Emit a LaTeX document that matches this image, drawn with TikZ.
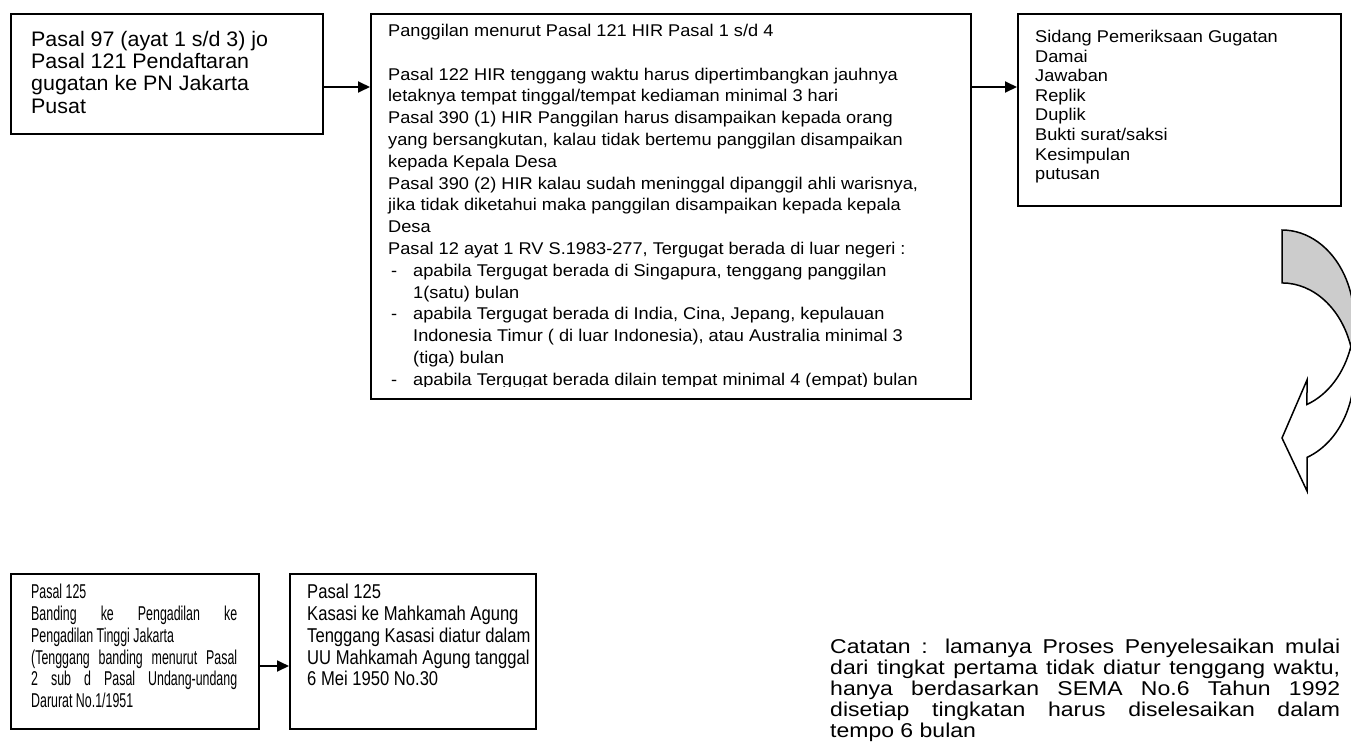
\documentclass[tikz,border=0pt]{standalone}
\usepackage{fontspec}
\setmainfont{Liberation Sans}
% text faces, each with its own horizontal scaling
\newfontfamily\faceA[FakeStretch=1.02]{Liberation Sans}
\newfontfamily\faceB[FakeStretch=1.07]{Liberation Sans}
\newfontfamily\faceC[FakeStretch=0.62]{Liberation Sans}
\newfontfamily\faceD[FakeStretch=0.83]{Liberation Sans}
\newfontfamily\faceE[FakeStretch=1.15]{Liberation Sans}
\usetikzlibrary{arrows.meta}
% list helpers for the summons panel
\newcommand{\dashitem}{\makebox[25pt][l]{\hspace*{3pt}-}}
\newcommand{\contind}{\makebox[25pt][l]{}}

\begin{document}
\begin{tikzpicture}[x=1pt,y=-1pt,
  panel/.style={draw=black,line width=1.8pt,inner sep=0pt,anchor=north west},
  txt/.style={inner sep=0pt,anchor=north west,align=left},
  conn/.style={line width=1.8pt,-{Triangle[length=12pt,width=11pt]}},
  curvedfill/.style={draw=black,line width=1.5pt,line join=miter}]
\useasboundingbox (0,0) rectangle (1351,742);
\clip (0,0) rectangle (1351,742);

% ---- boxes ----
\node[panel,minimum width=312pt,minimum height=120pt] (b1) at (10,13) {};
\node[panel,minimum width=600pt,minimum height=385pt] (b2) at (370,13) {};
\node[panel,minimum width=323pt,minimum height=192pt] (b3) at (1017,13) {};
\node[panel,minimum width=248pt,minimum height=155pt] (b4) at (10,573) {};
\node[panel,minimum width=246pt,minimum height=155pt] (b5) at (289,573) {};

% ---- texts ----
\node[txt,font=\faceA\fontsize{21}{22.2}\selectfont] (t1) at (31,31)
  {Pasal 97 (ayat 1 s/d 3) jo\\Pasal 121 Pendaftaran\\gugatan ke PN Jakarta\\Pusat};

\begin{scope}
\clip (372,15) rectangle (968,386);
\node[txt,font=\faceB\fontsize{17}{21.8}\selectfont] (t2) at (388,24)
  {Panggilan menurut Pasal 121 HIR Pasal 1 s/d 4\\
   \mbox{}\\
   Pasal 122 HIR tenggang waktu harus dipertimbangkan jauhnya\\
   letaknya tempat tinggal/tempat kediaman minimal 3 hari\\
   Pasal 390 (1) HIR Panggilan harus disampaikan kepada orang\\
   yang bersangkutan, kalau tidak bertemu panggilan disampaikan\\
   kepada Kepala Desa\\
   Pasal 390 (2) HIR kalau sudah meninggal dipanggil ahli warisnya,\\
   jika tidak diketahui maka panggilan disampaikan kepada kepala\\
   Desa\\
   Pasal 12 ayat 1 RV S.1983-277, Tergugat berada di luar negeri :\\
   \dashitem apabila Tergugat berada di Singapura, tenggang panggilan\\
   \contind 1(satu) bulan\\
   \dashitem apabila Tergugat berada di India, Cina, Jepang, kepulauan\\
   \contind Indonesia Timur ( di luar Indonesia), atau Australia minimal 3\\
   \contind (tiga) bulan\\
   \dashitem apabila Tergugat berada dilain tempat minimal 4 (empat) bulan};
\end{scope}

\node[txt,font=\faceB\fontsize{17}{19.6}\selectfont] (t3) at (1035,30)
  {Sidang Pemeriksaan Gugatan\\Damai\\Jawaban\\Replik\\Duplik\\Bukti surat/saksi\\Kesimpulan\\putusan};

\node[txt,font=\faceC\fontsize{20}{21.8}\selectfont] (t4) at (31,584)
  {Pasal 125\\
   \makebox[206pt][s]{Banding ke Pengadilan ke}\\
   Pengadilan Tinggi Jakarta\\
   \makebox[206pt][s]{(Tenggang banding menurut Pasal}\\
   \makebox[206pt][s]{2 sub d Pasal Undang-undang}\\
   Darurat No.1/1951};

\node[txt,font=\faceD\fontsize{20}{21.8}\selectfont] (t5) at (307,584)
  {Pasal 125\\Kasasi ke Mahkamah Agung\\Tenggang Kasasi diatur dalam\\UU Mahkamah Agung tanggal\\6 Mei 1950 No.30};

\node[txt,font=\faceE\fontsize{20}{21}\selectfont] (note) at (830,638.5)
  {\makebox[510pt][s]{Catatan : lamanya Proses Penyelesaikan mulai}\\
   \makebox[510pt][s]{dari tingkat pertama tidak diatur tenggang waktu,}\\
   \makebox[510pt][s]{hanya berdasarkan SEMA No.6 Tahun 1992}\\
   \makebox[510pt][s]{disetiap tingkatan harus diselesaikan dalam}\\
   tempo 6 bulan};

% ---- connectors ----
\coordinate (ytop) at (0,87);
\coordinate (ybot) at (0,666);
\draw[conn] (b1.east |- ytop) -- (b2.west |- ytop);
\draw[conn] (b2.east |- ytop) -- (b3.west |- ytop);
\draw[conn] (b4.east |- ybot) -- (b5.west |- ybot);

% ---- curved turn-down arrow at the right edge ----
\coordinate (twist) at (1350.8,346.5);
\draw[curvedfill,fill=white] (twist)
  arc[start angle=17.1,end angle=69.7,x radius=72,y radius=90]
  -- (1307,380) -- (1282,438) -- (1307,491) -- (1307,457.4)
  arc[start angle=69.7,end angle=-17.1,x radius=72,y radius=90] -- cycle;
\draw[curvedfill,fill=gray!40] (1282,230)
  arc[start angle=-90,end angle=17.1,x radius=72,y radius=90]
  arc[start angle=-17.1,end angle=-90,x radius=72,y radius=90] -- cycle;
\end{tikzpicture}
\end{document}
